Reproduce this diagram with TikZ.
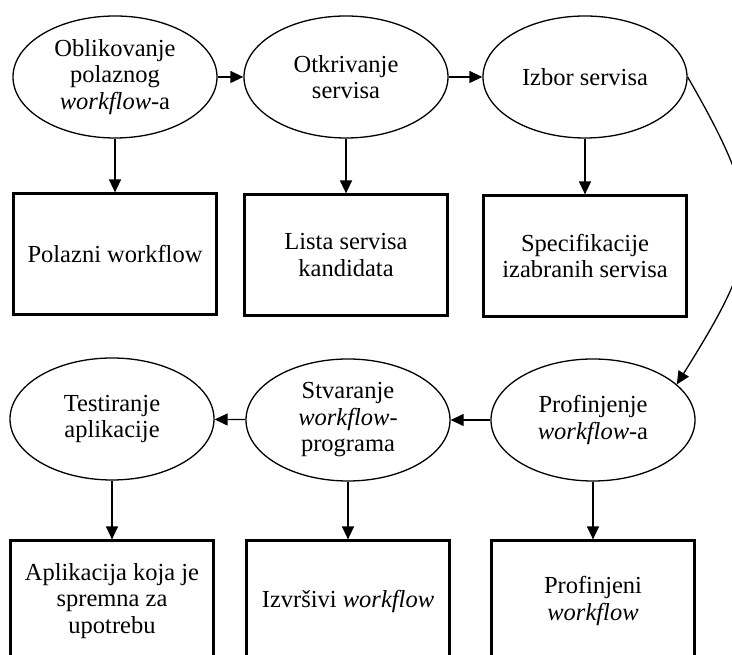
\documentclass[tikz,border=0pt]{standalone}
\usepackage{fontspec}
\setmainfont{Liberation Serif}
\usetikzlibrary{shapes.geometric,arrows.meta}

\tikzset{
  faza/.style={ellipse, draw, line width=1.3pt, minimum width=204pt, minimum height=122pt,
    inner sep=0pt, align=center, font=\fontsize{24.5}{26.5}\selectfont},
  izlaz/.style={rectangle, draw, line width=2.2pt, minimum width=203pt, minimum height=121pt,
    inner sep=0pt, align=center, font=\fontsize{24.5}{26.5}\selectfont},
  tok/.style={-{Triangle[length=13pt,width=12pt]}, line width=1.3pt}
}

\begin{document}
\begin{tikzpicture}[x=1pt,y=1pt]
    \path[use as bounding box] (0,0) rectangle (732,655);
    \clip (0,0) rectangle (732,655);

    % gornji red
    \node[faza] (e1) at (115,578) {Oblikovanje\\polaznog\\\emph{workflow}-a};
    \node[faza] (e2) at (346,578) {Otkrivanje\\servisa};
    \node[faza] (e3) at (585,578) {Izbor servisa};

    \node[izlaz] (b1) at (115,401) {Polazni workflow};
    \node[izlaz] (b2) at (346,400) {Lista servisa\\kandidata};
    \node[izlaz] (b3) at (585,399) {Specifikacije\\izabranih servisa};

    % donji red
    \node[faza] (e4) at (112,236) {Testiranje\\aplikacije};
    \node[faza] (e5) at (348,235) {Stvaranje\\\emph{workflow}-\\programa};
    \node[faza] (e6) at (593,235) {Profinjenje\\\emph{workflow}-a};

    \node[izlaz] (b4) at (112,54) {Aplikacija koja je\\spremna za\\upotrebu};
    \node[izlaz] (b5) at (348,54) {Izvršivi \emph{workflow}};
    \node[izlaz] (b6) at (593,54) {Profinjeni\\\emph{workflow}};

    \draw[tok] (e1) -- (e2);
    \draw[tok] (e2) -- (e3);
    \draw[tok] (e3.east) to[out=-60,in=58,looseness=1.35] (e6.23);
    \draw[tok] (e6) -- (e5);
    \draw[tok] (e5) -- (e4);

    \draw[tok] (e1) -- (b1);
    \draw[tok] (e2) -- (b2);
    \draw[tok] (e3) -- (b3);
    \draw[tok] (e4) -- (b4);
    \draw[tok] (e5) -- (b5);
    \draw[tok] (e6) -- (b6);
\end{tikzpicture}
\end{document}
